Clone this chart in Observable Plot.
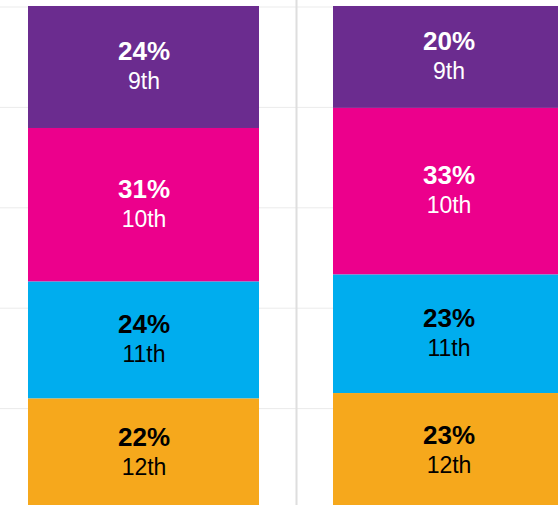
<!DOCTYPE html>
<html>
<head>
<meta charset="utf-8">
<script src="https://cdn.jsdelivr.net/npm/d3@7"></script>
<script src="https://cdn.jsdelivr.net/npm/@observablehq/plot@0.6"></script>
<style>
  html, body { margin: 0; padding: 0; background: #fff; overflow: hidden; }
  #chart svg { display: block; }
</style>
</head>
<body>
<div id="chart"></div>
<script>
// Data
const bars = ["Bar 1", "Bar 2"];
const grades = ["9th", "10th", "11th", "12th"];
const bar1Values = [24.3, 30.6, 23.3, 21.9];
const bar2Values = [20.3, 33.2, 23.6, 23.0];
const bar1Labels = ["24%", "31%", "24%", "22%"];
const bar2Labels = ["20%", "33%", "23%", "23%"];
const yTicks = [0, 20, 40, 60, 80, 100];

const colors = ["#6B2C8F", "#EC008C", "#00ADEE", "#F6A81C"];
const textColors = ["#ffffff", "#ffffff", "#000000", "#000000"];

const rows = [];
[[bars[0], bar1Values, bar1Labels], [bars[1], bar2Values, bar2Labels]].forEach(([bar, vals, labs]) => {
  grades.forEach((g, i) => rows.push({bar, grade: g, value: vals[i], label: labs[i], gi: i}));
});

const stackOpts = {x: "bar", y: "value", z: "grade", order: ["12th", "11th", "10th", "9th"]};
const step = 305;

const chart = Plot.plot({
  width: 558,
  height: 505,
  marginTop: 0, marginBottom: 0, marginLeft: 0, marginRight: 0,
  x: {domain: bars, range: [-9, 601], paddingInner: 0.2426, paddingOuter: 0.1213, axis: null},
  y: {domain: [0, 100], range: [508.5, 6.5], axis: null},
  color: {domain: grades, range: colors},
  marks: [
    Plot.ruleY(yTicks, {stroke: "#ebebeb", strokeWidth: 1}),
    Plot.ruleX(bars, {x: d => d, dx: step / 2, stroke: "#dedede", strokeWidth: 2}),
    Plot.barY(rows, Plot.stackY({...stackOpts, fill: "grade"})),
    Plot.text(rows, Plot.stackY({...stackOpts, text: "label", fill: d => textColors[d.gi],
      fontFamily: "Liberation Sans, Arial, sans-serif", fontWeight: "bold", fontSize: 26, dy: -16})),
    Plot.text(rows, Plot.stackY({...stackOpts, text: "grade", fill: d => textColors[d.gi],
      fontFamily: "Liberation Sans, Arial, sans-serif", fontSize: 23, dy: 14}))
  ]
});
document.getElementById("chart").appendChild(chart);
</script>
</body>
</html>
